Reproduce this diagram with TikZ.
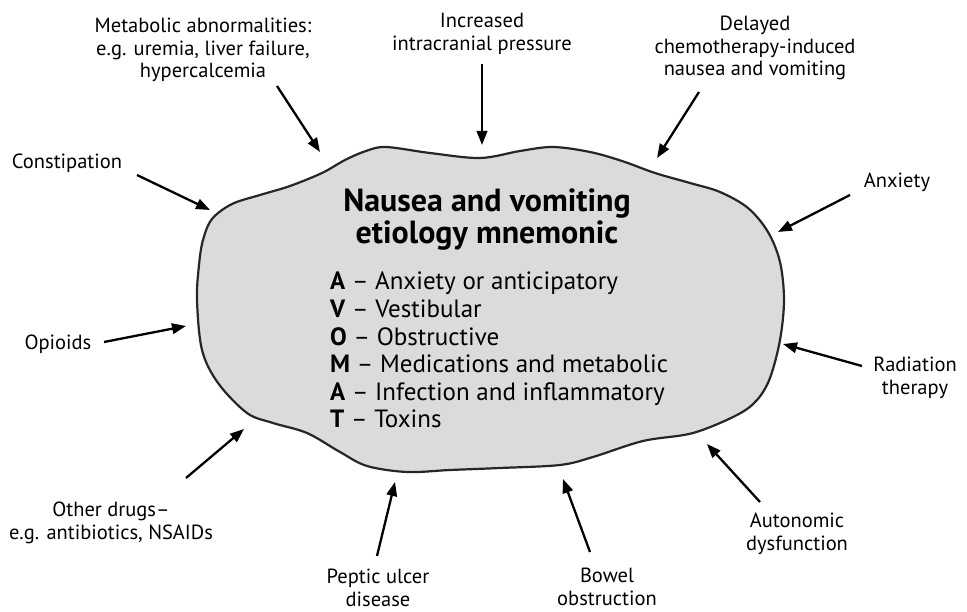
\documentclass[tikz,border=0pt]{standalone}
\usepackage{fontspec}
\setmainfont{PT Sans}
\usetikzlibrary{arrows.meta}
\begin{document}
\begin{tikzpicture}[x=1pt,y=-1pt,
  lbl/.style={align=center,inner sep=0pt,font=\fontsize{20.5}{22.5}\selectfont},
  ttl/.style={inner sep=0pt,anchor=base,font=\fontsize{32}{35}\selectfont\bfseries},
  itm/.style={inner sep=0pt,anchor=base west,font=\fontsize{25}{27.6}\selectfont},
  arr/.style={line width=2.3pt,-{Triangle[length=14pt,width=10.5pt]}},
  blob/.style={draw=black!85,line width=2.2pt,fill=black!14}]
\useasboundingbox (0,0) rectangle (967,612);
\fill[white] (0,0) rectangle (967,612);
% blob
\draw[blob] plot[smooth cycle, tension=0.55] coordinates {
 (203,240) (212,219) (232,204) (260,195) (290,186) (322,173) (345,160)
 (366,151) (386,147) (430,153) (480,158) (520,151) (553,147) (590,152)
 (622,161) (655,173) (690,183) (720,192) (748,208) (768,232) (780,262)
 (784,300) (780,340) (770,378) (757,400) (737,415) (693,433) (643,441)
 (593,457) (560,465) (500,468) (450,470) (407,472) (367,466) (340,452)
 (307,433) (273,423) (247,413) (218,383) (202,350) (197,300) (199,265)};
% title and list
\node[ttl] (t1) at (487,212) {Nausea and vomiting};
\node[ttl] (t2) at (487,244) {etiology mnemonic};
\node[itm] (l1) at (330,290)   {\textbf{A} -- Anxiety or anticipatory};
\node[itm] (l2) at (330,317.6) {\textbf{V} -- Vestibular};
\node[itm] (l3) at (330,345.2) {\textbf{O} -- Obstructive};
\node[itm] (l4) at (330,372.8) {\textbf{M} -- Medications and metabolic};
\node[itm] (l5) at (330,400.4) {\textbf{A} -- Infection and inflammatory};
\node[itm] (l6) at (330,428)   {\textbf{T} -- Toxins};
% labels
\node[lbl] (met) at (203,50) {Metabolic abnormalities:\\e.g. uremia, liver failure,\\hypercalcemia};
\node[lbl] (icp) at (482,34) {Increased\\intracranial pressure};
\node[lbl] (del) at (755,48) {Delayed\\chemotherapy-induced\\nausea and vomiting};
\node[lbl] (con) at (67,163) {Constipation};
\node[lbl] (anx) at (897,182) {Anxiety};
\node[lbl] (opi) at (58,344) {Opioids};
\node[lbl] (rad) at (915,378) {Radiation\\therapy};
\node[lbl] (oth) at (111,523) {Other drugs--\\e.g. antibiotics, NSAIDs};
\node[lbl] (pep) at (378,588) {Peptic ulcer\\disease};
\node[lbl] (bow) at (607,587) {Bowel\\obstruction};
\node[lbl] (aut) at (797,534) {Autonomic\\dysfunction};
% arrow end points
\coordinate (metS) at (277,86);  \coordinate (metT) at (320,152);
\coordinate (icpS) at (482,64);  \coordinate (icpT) at (482,145);
\coordinate (delS) at (699,92);  \coordinate (delT) at (657,158);
\coordinate (conS) at (137,175); \coordinate (conT) at (210,210);
\coordinate (anxS) at (850,195); \coordinate (anxT) at (778,232);
\coordinate (opiS) at (104,342); \coordinate (opiT) at (186,326);
\coordinate (radS) at (862,366); \coordinate (radT) at (783,344);
\coordinate (othS) at (186,478); \coordinate (othT) at (244,429);
\coordinate (pepS) at (377,556); \coordinate (pepT) at (395,482);
\coordinate (bowS) at (590,552); \coordinate (bowT) at (563,479);
\coordinate (autS) at (760,502); \coordinate (autT) at (707,444);
\foreach \a in {met,icp,del,con,anx,opi,rad,oth,pep,bow,aut}
  \draw[arr] (\a S) -- (\a T);
\end{tikzpicture}
\end{document}
